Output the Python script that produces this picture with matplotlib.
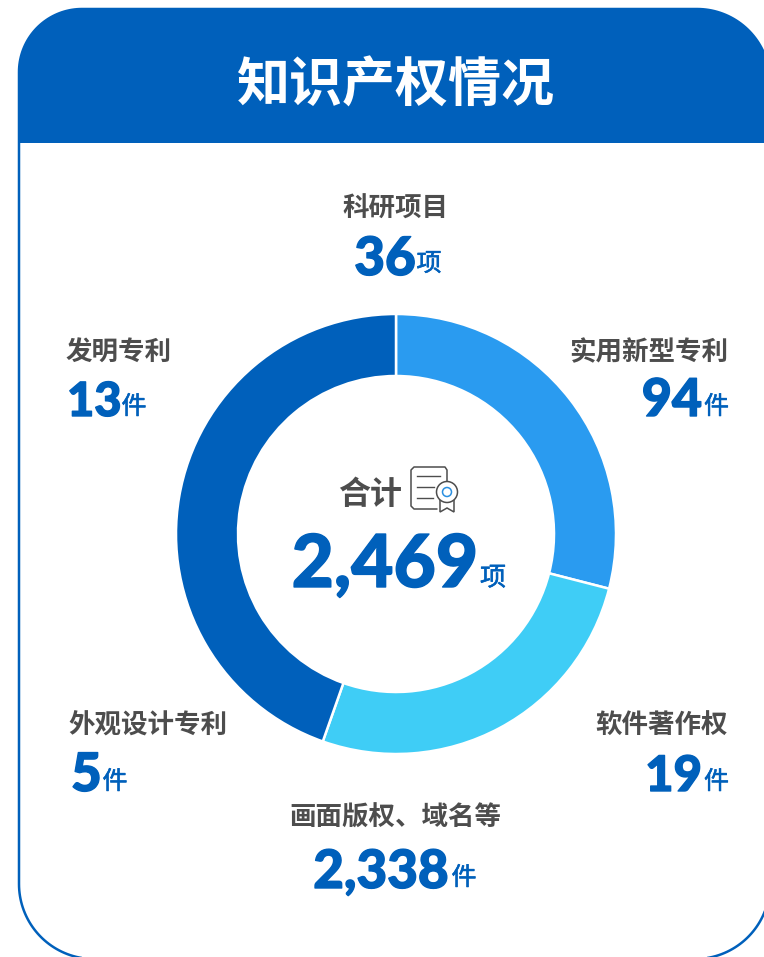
import matplotlib
matplotlib.use('Agg')
import matplotlib.pyplot as plt
import matplotlib.patheffects as pe
import numpy as np
from matplotlib.patches import Polygon, Rectangle, Circle

W, H = 764, 957
CJK = ['Noto Sans CJK SC', 'DejaVu Sans']
NUM = ['Lato', 'DejaVu Sans']

BLUE = '#0060bb'
GREY = '#4d4d4d'

title = '知识产权情况'
# ring shares (the drawn arcs, not the printed counts)
ring_shares = [29.0, 26.4, 44.6]
ring_colors = ['#2a9bf0', '#3fcdf6', '#0060bb']

labels = ['科研项目', '实用新型专利', '软件著作权', '画面版权、域名等', '外观设计专利', '发明专利']
counts = ['36', '94', '19', '2,338', '5', '13']
units = ['项', '件', '件', '件', '件', '件']
total_label = '合计'
total_count = '2,469'
total_unit = '项'


def py(y):
    return H - y


def cjk(ax, x, y, s, size, color, ha='center', weight='bold', zorder=3):
    # Noto CJK sits a little high with va=center
    return ax.text(x, py(y + size * 0.08), s, fontsize=size * 0.72, color=color, ha=ha, va='center',
                   family=CJK, fontweight=weight, zorder=zorder)


def unit(ax, x, y, s, size, ha='center'):
    # regular weight with a hairline stroke, closer to the medium cut of the source
    t = cjk(ax, x, y, s, size, BLUE, ha=ha, weight='regular')
    t.set_path_effects([pe.withStroke(linewidth=0.4, foreground=BLUE)])
    return t


def num(ax, x, y, s, size, ha='left'):
    # y is the baseline; thin stroke because Lato is lighter than the reference digits
    t = ax.text(x, py(y), s, fontsize=size * 0.72, color=BLUE, ha=ha, va='baseline',
                family=NUM, fontweight='black')
    t.set_path_effects([pe.withStroke(linewidth=1.0, foreground=BLUE)])
    return t


def card_points(x0=19.0, x1=770.0, y0=9.0, y1=959.0):
    # corner radii differ a bit in the source, so go round the corners by hand
    corners = [(x0 + 63, y0 + 63, 63, 180, 270),
               (x1 - 73, y0 + 73, 73, 270, 360),
               (x1 - 75, y1 - 75, 75, 0, 90),
               (x0 + 75, y1 - 75, 75, 90, 180)]
    pts = []
    for cx, cy, r, a0, a1 in corners:
        t = np.radians(np.linspace(a0, a1, 40))
        pts.append(np.column_stack((cx + r * np.cos(t), py(cy + r * np.sin(t)))))
    return np.vstack(pts)


def cert_icon(ax):
    ax.plot([447, 447, 445, 414, 411, 411, 414, 437],
            [py(482), py(470), py(467), py(467), py(470), py(506), py(509), py(509)],
            color=GREY, lw=1.1, solid_capstyle='round')
    for x0, x1, y in [(417, 440, 476), (417, 434, 487), (417, 433, 498)]:
        ax.plot([x0, x1], [py(y), py(y)], color=GREY, lw=1.0)
    ax.add_patch(Polygon([(440, py(500)), (440, py(512)), (447, py(508)), (454, py(512)), (454, py(500))],
                         closed=False, fill=False, ec=GREY, lw=1.1, zorder=4))
    ax.add_patch(Circle((447, py(492)), 10.5, fc='white', ec=GREY, lw=1.1, zorder=5))
    ax.add_patch(Circle((447, py(492)), 4.5, fc='white', ec='#2a8fe0', lw=1.1, zorder=6))


def main():
    fig = plt.figure(figsize=(W / 100, H / 100), dpi=100, facecolor='white')
    ax = fig.add_axes([0, 0, 1, 1])

    # donut
    ax.pie(ring_shares, colors=ring_colors, startangle=90, counterclock=False,
           center=(396, py(534)), radius=220, frame=True,
           wedgeprops=dict(width=62, edgecolor='white', linewidth=1.8))

    # card outline, header is the same shape clipped at y=143
    pts = card_points()
    ax.add_patch(Polygon(pts, closed=True, fc='none', ec=BLUE, lw=1.8, zorder=1))
    head = Polygon(pts, closed=True, fc=BLUE, ec='none', zorder=2)
    ax.add_patch(head)
    head.set_clip_path(Rectangle((0, py(143)), W, 143, transform=ax.transData))

    cjk(ax, 395, 82, title, 53, 'white')

    # labels around the ring
    cjk(ax, 395, 207, labels[0], 26.5, GREY)
    num(ax, 385, 275, counts[0], 53, ha='center')
    unit(ax, 429, 262, units[0], 25)

    cjk(ax, 728, 351, labels[1], 26.5, GREY, ha='right')
    num(ax, 702, 416, counts[1], 52, ha='right')
    unit(ax, 729, 405, units[1], 25, ha='right')

    cjk(ax, 728, 724, labels[2], 26.5, GREY, ha='right')
    num(ax, 702, 791, counts[2], 49, ha='right')
    unit(ax, 729, 780, units[2], 25, ha='right')

    cjk(ax, 395, 816, labels[3], 26.5, GREY)
    num(ax, 381, 888, counts[3], 53, ha='center')
    unit(ax, 464, 876, units[3], 25)

    cjk(ax, 68, 724, labels[4], 26.5, GREY, ha='left')
    num(ax, 71, 791, counts[4], 53)
    unit(ax, 115, 780, units[4], 25)

    cjk(ax, 65, 351, labels[5], 26.5, GREY, ha='left')
    num(ax, 67, 416, counts[5], 47)
    unit(ax, 134, 405, units[5], 25)

    # centre
    cjk(ax, 370, 492, total_label, 32, GREY)
    cert_icon(ax)
    num(ax, 385, 587, total_count, 73, ha='center')
    unit(ax, 493, 576, total_unit, 26)

    ax.set_xlim(0, W)
    ax.set_ylim(0, H)
    ax.set_aspect('equal')
    ax.axis('off')
    fig.savefig('out.png', dpi=100, facecolor='white')


if __name__ == '__main__':
    main()
